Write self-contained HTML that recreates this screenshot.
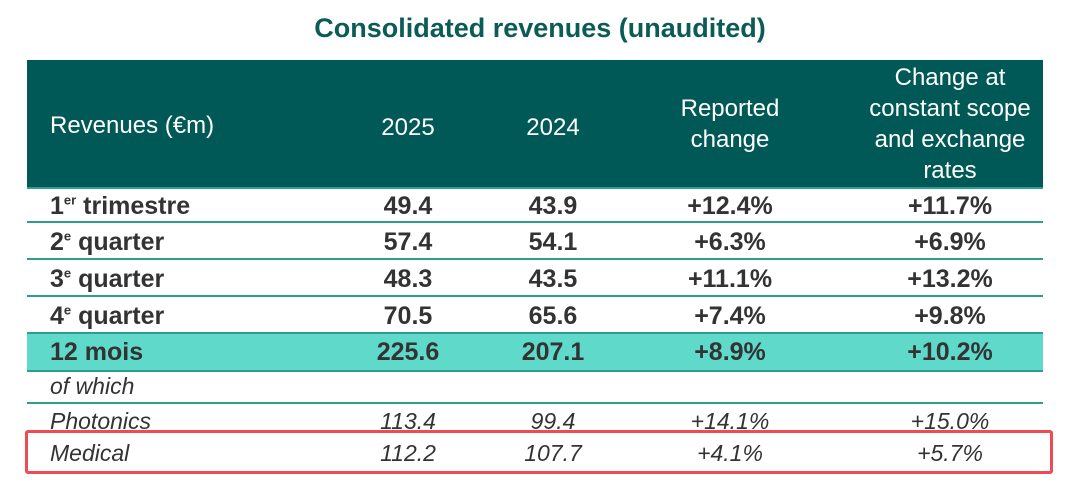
<!DOCTYPE html>
<html><head><meta charset="utf-8"><style>
body{margin:0;width:1080px;height:488px;background:#fff;font-family:"Liberation Sans",sans-serif;overflow:hidden;position:relative}
.t{position:absolute;white-space:nowrap}
#title{left:0;width:1080px;top:13px;text-align:center;font-size:27px;font-weight:bold;color:#0b5b56}
#hdr{position:absolute;left:27px;top:60px;width:1016px;height:128px;background:#005957}
.h{position:absolute;color:#fff;font-size:24px;text-align:center;line-height:31px}
.row{position:absolute;left:27px;width:1016px}
.c{position:absolute;font-size:25px;color:#333;text-align:center;width:200px;margin-left:-100px}
.lab{position:absolute;left:23px;font-size:25px;color:#333}
.b{font-weight:bold}.i{font-style:italic;font-size:23px}
.line{position:absolute;left:27px;width:1016px;height:2px;background:#2e9e8f}
sup{font-size:13px}
</style></head><body>
<div id="title" class="t">Consolidated revenues (unaudited)</div>
<div id="hdr">
<div class="h" style="left:23px;top:50px;text-align:left">Revenues (€m)</div>
<div class="h" style="left:281px;width:200px;top:52px">2025</div>
<div class="h" style="left:426px;width:200px;top:52px">2024</div>
<div class="h" style="left:603px;width:200px;top:33px">Reported<br>change</div>
<div class="h" style="left:773px;width:300px;top:2px">Change at<br>constant scope<br>and exchange<br>rates</div>
</div>
<div class="row" style="top:333px;height:38px;background:#5fd9c9"></div>
<div class="line" style="top:187px"></div>
<div class="line" style="top:221px"></div>
<div class="line" style="top:258px"></div>
<div class="line" style="top:295px"></div>
<div class="line" style="top:332px"></div>
<div class="line" style="top:370px"></div>
<div class="line" style="top:402px"></div>
<script>
const labels=["1<sup>er</sup> trimestre","2<sup>e</sup> quarter","3<sup>e</sup> quarter","4<sup>e</sup> quarter","12 mois","of which","Photonics","Medical"];
const v2025=["49.4","57.4","48.3","70.5","225.6","","113.4","112.2"];
const v2024=["43.9","54.1","43.5","65.6","207.1","","99.4","107.7"];
const reported=["+12.4%","+6.3%","+11.1%","+7.4%","+8.9%","","+14.1%","+4.1%"];
const constant=["+11.7%","+6.9%","+13.2%","+9.8%","+10.2%","","+15.0%","+5.7%"];
const tops=[192,228,265,302,338,373,408,440];
labels.forEach((l,i)=>{
 const cls=i>=5?'i':'b';
 const mk=(html,x,isLab,name)=>{const d=document.createElement('div');
  d.className=(isLab?'lab ':'c ')+cls;d.innerHTML=html;d.style.top=tops[i]+'px';
  d.style.left=isLab?'50px':x+'px';
  
  
  document.body.appendChild(d);};
 mk(l,0,true,'row-label');
 mk(v2025[i],408,false,'value-2025');
 mk(v2024[i],553,false,'value-2024');
 mk(reported[i],730,false,'reported-change');
 mk(constant[i],950,false,'constant-change');
});
</script>
<div style="position:absolute;left:25px;top:430px;width:1022px;height:38px;border:3px solid #ee4c52;border-radius:3px"></div>
</body></html>
